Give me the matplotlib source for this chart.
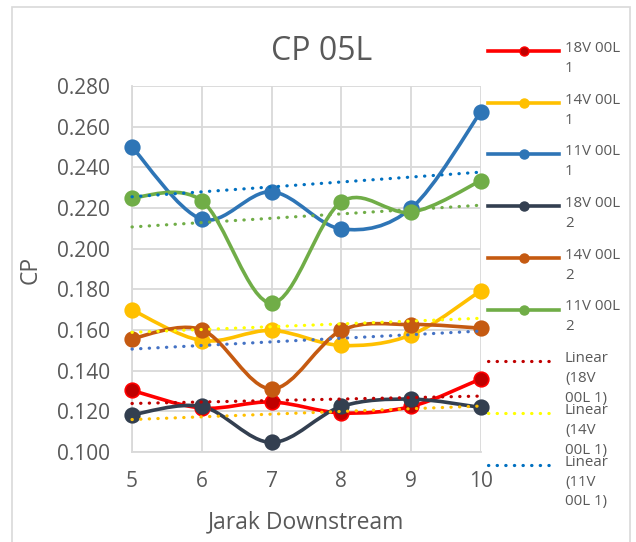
import numpy as np
import matplotlib
matplotlib.use("Agg")
import matplotlib.pyplot as plt
from matplotlib.path import Path
from matplotlib.patches import PathPatch, Rectangle
from matplotlib.lines import Line2D

plt.rcParams['font.family'] = ['Open Sans', 'DejaVu Sans']

# data
jarak = [5, 6, 7, 8, 9, 10]
cp_18v_1 = [0.1303, 0.1216, 0.1246, 0.1192, 0.1224, 0.1360]
cp_14v_1 = [0.1699, 0.1548, 0.1598, 0.1524, 0.1576, 0.1794]
cp_11v_1 = [0.2500, 0.2145, 0.2280, 0.2097, 0.2199, 0.2674]
cp_18v_2 = [0.1183, 0.1224, 0.1047, 0.1224, 0.1260, 0.1219]
cp_14v_2 = [0.1558, 0.1601, 0.1310, 0.1598, 0.1627, 0.1609]
cp_11v_2 = [0.2251, 0.2235, 0.1732, 0.2230, 0.2179, 0.2335]

labels = ["18V 00L\n1", "14V 00L\n1", "11V 00L\n1", "18V 00L\n2", "14V 00L\n2", "11V 00L\n2"]
series = [cp_18v_1, cp_14v_1, cp_11v_1, cp_18v_2, cp_14v_2, cp_11v_2]
line_colors = ["#FF0000", "#FFC000", "#2E75B6", "#333F50", "#C55A11", "#70AD47"]
face_colors = ["#C00000", "#FFC000", "#2E75B6", "#333F50", "#C55A11", "#70AD47"]
trend_colors = ["#C00000", "#FFFF00", "#0070C0", "#FFC000", "#4472C4", "#70AD47"]
trend_labels = ["Linear\n(18V\n00L 1)", "Linear\n(14V\n00L 1)", "Linear\n(11V\n00L 1)"]

TXT = "#595959"
GRID = "#D9D9D9"


def smooth_path(x, y):
    # excel-like smoothed line as cubic bezier segments
    pts = np.column_stack([x, y]).astype(float)
    n = len(pts)
    verts = [pts[0]]
    codes = [Path.MOVETO]
    for i in range(n - 1):
        p0 = pts[i - 1] if i > 0 else pts[i]
        p1 = pts[i]
        p2 = pts[i + 1]
        p3 = pts[i + 2] if i + 2 < n else pts[i + 1]
        c1 = p1 + (p2 - p0) / 6.0
        c2 = p2 - (p3 - p1) / 6.0
        verts += [c1, c2, p2]
        codes += [Path.CURVE4] * 3
    return Path(verts, codes)


fig = plt.figure(figsize=(6.36, 5.42), dpi=100)
W, H = 636, 542

# chart border
fig.add_artist(Rectangle((12 / W, -0.05), (630 - 12) / W, 1.05 - 7 / H,
                         transform=fig.transFigure, fill=False,
                         edgecolor=GRID, linewidth=1.2))

ax = fig.add_axes([132 / W, 90 / H, 349 / W, 366 / H])
ax.set_xlim(5, 10)
ax.set_ylim(0.100, 0.280)
ax.set_yticks(np.arange(0.100, 0.281, 0.020))
ax.set_yticklabels(["%.3f" % v for v in np.arange(0.100, 0.281, 0.020)])
ax.set_xticks(jarak)
ax.grid(True, color=GRID, linewidth=1.3)
ax.set_axisbelow(True)
for s in ["top", "right"]:
    ax.spines[s].set_visible(False)
for s in ["left", "bottom"]:
    ax.spines[s].set_color(GRID)
    ax.spines[s].set_linewidth(1.3)
ax.tick_params(length=0, labelsize=15, labelcolor=TXT, pad=14)
ax.tick_params(axis="y", pad=16)

for ys, lc, fc in zip(series, line_colors, face_colors):
    ax.add_patch(PathPatch(smooth_path(jarak, ys), fill=False, edgecolor=lc,
                           linewidth=2.6, zorder=3, clip_on=False))
    ax.plot(jarak, ys, linestyle="none", marker="o", markersize=10.5,
            markerfacecolor=fc, markeredgecolor=lc, markeredgewidth=1.2,
            zorder=4, clip_on=False)

# linear trendlines
xs = np.array(jarak, dtype=float)
for ys, tc in zip(series, trend_colors):
    k, b = np.polyfit(xs, ys, 1)
    ax.plot(xs, k * xs + b, color=tc, linewidth=2.3,
            linestyle=(0, (0.1, 2.6)), dash_capstyle="round", zorder=5,
            clip_on=False)

fig.text(322 / W, 1 - 52 / H, "CP 05L", fontsize=23, color=TXT,
         ha="center", va="center")
fig.text(31 / W, 1 - 270 / H, "CP", fontsize=16.5, color=TXT,
         ha="center", va="center", rotation=90)
fig.text(305.5 / W, 1 - 522 / H, "Jarak Downstream", fontsize=16.5, color=TXT,
         ha="center", va="center")

# legend on the right side
lg = fig.add_axes([0, 0, 1, 1], facecolor="none")
lg.set_xlim(0, W)
lg.set_ylim(H, 0)
lg.axis("off")
y0, step = 51, 51.7
for i in range(6):
    y = y0 + i * step
    lg.add_line(Line2D([488, 559], [y, y], color=line_colors[i], linewidth=2.6))
    lg.plot([523.5], [y], marker="o", markersize=6.5, color=face_colors[i],
            markeredgecolor=line_colors[i])
    lg.text(565, y - 10, labels[i], fontsize=10.8, color=TXT, va="top",
            ha="left", linespacing=1.45)
for j in range(3):
    y = y0 + (6 + j) * step
    lg.add_line(Line2D([488, 556], [y, y], color=trend_colors[j], linewidth=2.3,
                       linestyle=(0, (0.1, 2.6)), dash_capstyle="round"))
    lg.text(565, y - 10, trend_labels[j], fontsize=10.8, color=TXT, va="top",
            ha="left", linespacing=1.45)

fig.savefig("out.png", dpi=100)
